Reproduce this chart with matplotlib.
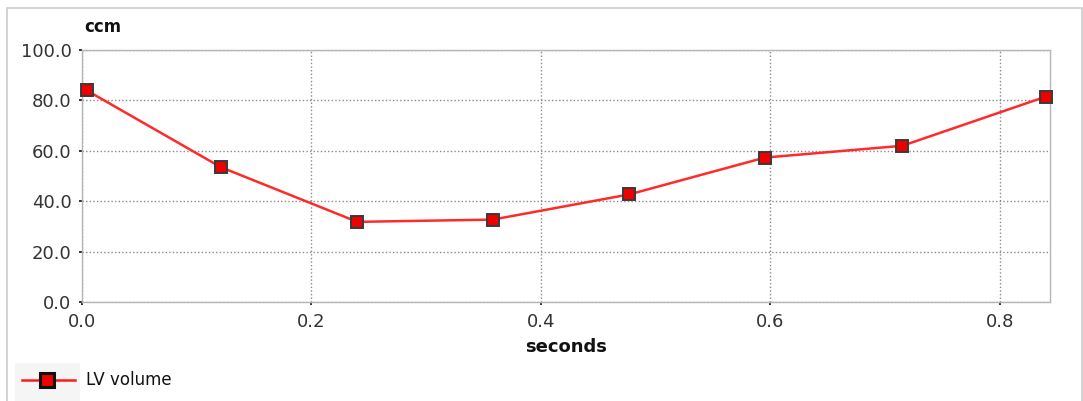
import matplotlib
matplotlib.use("Agg")
import matplotlib.pyplot as plt
from matplotlib.patches import Rectangle
from matplotlib.lines import Line2D

seconds = [0.004, 0.121, 0.240, 0.358, 0.477, 0.595, 0.715, 0.840]
lv_volume = [84.0, 53.5, 31.8, 32.7, 42.7, 57.3, 62.0, 81.5]
x_ticks = [0.0, 0.2, 0.4, 0.6, 0.8]
y_ticks = [0.0, 20.0, 40.0, 60.0, 80.0, 100.0]

plt.rcParams['font.family'] = ['DejaVu Sans']

fig = plt.figure(figsize=(10.83, 4.01), dpi=100)
ax = fig.add_axes([82/1083, 1-302/401, (1050-82)/1083, (302-50)/401])

ax.plot(seconds, lv_volume, color='#ff2a2a', lw=1.8, marker='s', markersize=9,
        markerfacecolor='#ee0000', markeredgecolor='#3a3a3a', markeredgewidth=1.4,
        zorder=3, clip_on=False)

ax.set_xlim(0, 0.8436)
ax.set_ylim(0, 100)
ax.set_xticks(x_ticks)
ax.set_yticks(y_ticks)
ax.set_xticklabels([f"{v:.1f}" for v in x_ticks])
ax.set_yticklabels([f"{v:.1f}" for v in y_ticks])
ax.tick_params(axis='both', which='both', length=2.5, width=1.2, color='#111111',
               labelsize=13, labelcolor='#333333')
ax.tick_params(axis='x', pad=5.5)
ax.tick_params(axis='y', pad=5)
ax.grid(True, color='#8a8a8a', linestyle=(0, (1, 1.6)), lw=1.0)
ax.set_axisbelow(True)
for s in ax.spines.values():
    s.set_color('#b5b5b5')
    s.set_linewidth(1.0)

ax.set_xlabel('seconds', fontsize=13, fontweight='bold', color='#111111', labelpad=5)
fig.text(84/1083, 1-27/401, 'ccm', fontsize=12, fontweight='bold', color='#111111',
         ha='left', va='center')

# figure border
fig.patches.append(Rectangle((7/1083, -0.05), (1082-7)/1083, 1.05-8/401,
                             transform=fig.transFigure, fill=False,
                             edgecolor='#cccccc', lw=1.2))
# legend
fig.patches.append(Rectangle((15/1083, 0), 65/1083, 1-363/401,
                             transform=fig.transFigure, facecolor='#f5f5f5',
                             edgecolor='none'))
fig.lines.append(Line2D([22/1083, 75/1083], [1-380/401, 1-380/401],
                        transform=fig.transFigure, color='#ff1a1a', lw=1.8))
fig.lines.append(Line2D([47/1083], [1-380/401], transform=fig.transFigure,
                        marker='s', markersize=10, markerfacecolor='#ee0000',
                        markeredgecolor='#111111', markeredgewidth=2.2))
fig.text(86/1083, 1-380/401, 'LV volume', fontsize=12, color='#111111',
         ha='left', va='center')

fig.savefig('out.png', dpi=100)
